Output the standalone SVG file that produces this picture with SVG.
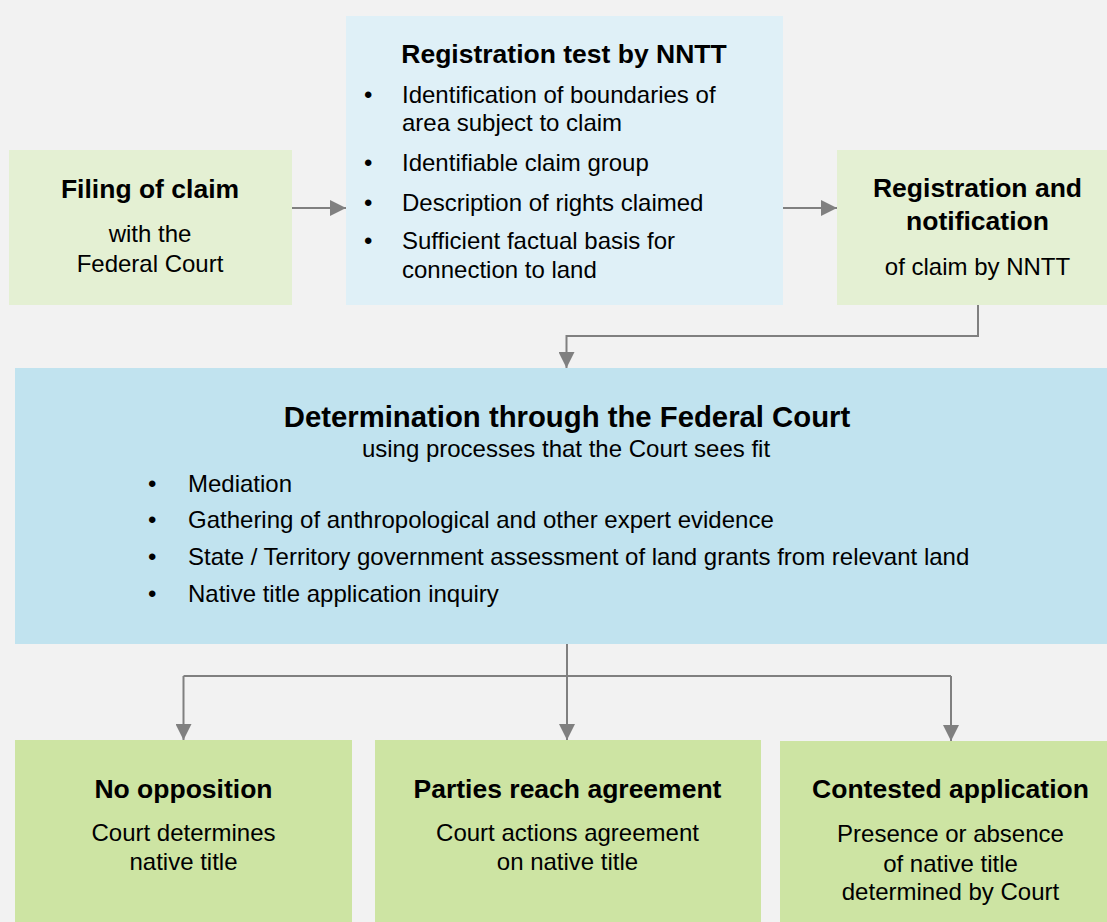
<svg xmlns="http://www.w3.org/2000/svg" width="1107" height="922" viewBox="0 0 1107 922">
<style>
text{font-family:"Liberation Sans",Arial,sans-serif;fill:#000}
.h{font-weight:bold;font-size:26.5px;text-anchor:middle}
.ht{font-weight:bold;font-size:29.3px;text-anchor:middle}
.b{font-size:24px}
.c{font-size:24px;text-anchor:middle}
.pale{fill:#e4f0d3}
.sky{fill:#dff0f7}
.blue{fill:#c1e3ef}
.green{fill:#cde4a3}
.ln{fill:none;stroke:#808080;stroke-width:2}
</style>
<defs>
<marker id="ah" viewBox="0 0 16 16" markerWidth="16" markerHeight="16" refX="16" refY="8" orient="auto" markerUnits="userSpaceOnUse">
<path d="M0,0 L16,8 L0,16 Z" fill="#808080"/>
</marker>
</defs>
<rect width="1107" height="922" fill="#f2f2f2"/>
<g id="filing">
<rect class="pale" x="9" y="150" width="283" height="155"/>
<text class="h" x="150" y="198">Filing of claim</text>
<text class="c" x="150" y="242">with the</text>
<text class="c" x="150" y="272">Federal Court</text>
</g>
<g id="regtest">
<rect class="sky" x="346" y="16" width="437" height="289"/>
<text class="h" x="564" y="63">Registration test by NNTT</text>
<g class="b">
<text x="364" y="103">•</text><text x="402" y="103">Identification of boundaries of</text>
<text x="402" y="131">area subject to claim</text>
<text x="364" y="171">•</text><text x="402" y="171">Identifiable claim group</text>
<text x="364" y="211">•</text><text x="402" y="211">Description of rights claimed</text>
<text x="364" y="249">•</text><text x="402" y="249">Sufficient factual basis for</text>
<text x="402" y="278">connection to land</text>
</g>
</g>
<g id="regnotif">
<rect class="pale" x="837" y="150" width="270" height="155"/>
<text class="h" x="977.5" y="197">Registration and</text>
<text class="h" x="977.5" y="230">notification</text>
<text class="c" x="977.5" y="275">of claim by NNTT</text>
</g>
<g id="determination">
<rect class="blue" x="15" y="368" width="1092" height="276"/>
<text class="ht" x="567" y="427">Determination through the Federal Court</text>
<text class="c" x="566" y="457">using processes that the Court sees fit</text>
<g class="b">
<text x="148" y="492">•</text><text x="188" y="492">Mediation</text>
<text x="148" y="528">•</text><text x="188" y="528">Gathering of anthropological and other expert evidence</text>
<text x="148" y="565">•</text><text x="188" y="565">State / Territory government assessment of land grants from relevant land</text>
<text x="148" y="602">•</text><text x="188" y="602">Native title application inquiry</text>
</g>
</g>
<g id="noopp">
<rect class="green" x="15" y="740" width="337" height="182"/>
<text class="h" x="183.5" y="798">No opposition</text>
<text class="c" x="183.5" y="841">Court determines</text>
<text class="c" x="183.5" y="870">native title</text>
</g>
<g id="agreement">
<rect class="green" x="375" y="740" width="386" height="182"/>
<text class="h" x="567.5" y="798">Parties reach agreement</text>
<text class="c" x="567.5" y="841">Court actions agreement</text>
<text class="c" x="567.5" y="870">on native title</text>
</g>
<g id="contested">
<rect class="green" x="780" y="741" width="327" height="181"/>
<text class="h" x="950.5" y="798">Contested application</text>
<text class="c" x="950.5" y="842">Presence or absence</text>
<text class="c" x="950.5" y="872">of native title</text>
<text class="c" x="950.5" y="900">determined by Court</text>
</g>
<g id="connectors">
<path class="ln" d="M292,208 H346" marker-end="url(#ah)"/>
<path class="ln" d="M783,208 H837" marker-end="url(#ah)"/>
<path class="ln" d="M978,305 V336 H566.5 V368" marker-end="url(#ah)"/>
<path class="ln" d="M567,644 V676"/>
<path class="ln" d="M183.5,676 H951"/>
<path class="ln" d="M183.5,676 V740" marker-end="url(#ah)"/>
<path class="ln" d="M567,676 V740" marker-end="url(#ah)"/>
<path class="ln" d="M951,676 V741" marker-end="url(#ah)"/>
</g>
</svg>
